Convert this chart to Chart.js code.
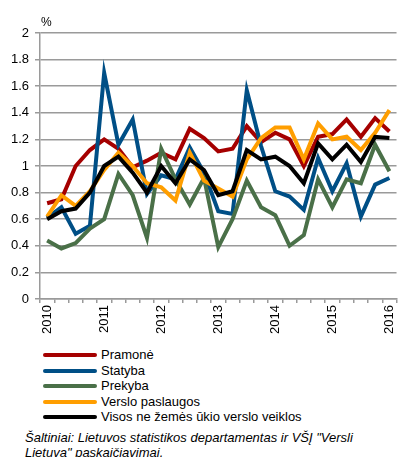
<!DOCTYPE html>
<html>
<head>
<meta charset="utf-8">
<script src="https://cdn.jsdelivr.net/npm/chart.js@4"></script>
<style>
    body { margin: 0; width: 403px; height: 457px; overflow: hidden; background: #fff; font-family: "Liberation Sans", Arial, sans-serif; }
    #wrap { position: absolute; left: 0; top: 0; width: 407px; height: 340px; }
    #unit { position: absolute; left: 41px; top: 15px; font-size: 12px; }
    .legend-row { position: absolute; left: 43px; height: 16px; font-size: 13px; line-height: 16px; }
    .legend-line { position: absolute; left: 0; top: 6px; width: 54px; height: 4px; border-radius: 2px; }
    .legend-text { position: absolute; left: 58px; top: 0; white-space: nowrap; }
    #note { position: absolute; left: 25px; top: 430px; font-size: 13px; font-style: italic; line-height: 15px; white-space: nowrap; }
</style>
</head>
<body>
<div id="wrap"><canvas id="lineChart"></canvas></div>
<div id="unit">%</div>
<div id="legend"></div>
<div id="note">Šaltiniai: Lietuvos statistikos departamentas ir VŠĮ "Versli<br>Lietuva" paskaičiavimai.</div>

<script>
    // =========================================
    // DATA (ketvirčiai 2010 I - 2016 I)
    // =========================================
    const quarters = [
        '2010', '', '', '', '2011', '', '', '', '2012', '', '', '', '2013',
        '', '', '', '2014', '', '', '', '2015', '', '', '', '2016'
    ];
    const pramone  = [0.72, 0.75, 1.00, 1.12, 1.20, 1.13, 0.99, 1.04, 1.10, 1.05, 1.28, 1.21, 1.11, 1.13, 1.30, 1.18, 1.25, 1.20, 1.00, 1.22, 1.24, 1.35, 1.22, 1.36, 1.26];
    const statyba  = [0.61, 0.69, 0.49, 0.55, 1.70, 1.16, 1.35, 0.79, 0.93, 0.90, 1.14, 0.95, 0.66, 0.64, 1.57, 1.15, 0.81, 0.77, 0.67, 1.06, 0.81, 1.02, 0.62, 0.86, 0.91];
    const prekyba  = [0.44, 0.38, 0.42, 0.53, 0.60, 0.94, 0.78, 0.46, 1.13, 0.90, 0.71, 0.91, 0.39, 0.60, 0.89, 0.69, 0.63, 0.40, 0.48, 0.90, 0.69, 0.90, 0.87, 1.16, 0.96];
    const verslo   = [0.62, 0.78, 0.70, 0.81, 0.97, 1.10, 1.00, 0.87, 0.84, 0.74, 1.10, 0.89, 0.83, 0.77, 1.05, 1.21, 1.29, 1.29, 1.05, 1.32, 1.20, 1.22, 1.12, 1.25, 1.42];
    const visos    = [0.60, 0.66, 0.68, 0.80, 1.00, 1.07, 0.95, 0.80, 1.00, 0.87, 1.05, 0.97, 0.78, 0.81, 1.12, 1.05, 1.07, 1.00, 0.87, 1.17, 1.05, 1.16, 1.03, 1.22, 1.21];

    const seriesNames = ['Pramonė', 'Statyba', 'Prekyba', 'Verslo paslaugos', 'Visos ne žemės ūkio verslo veiklos'];
    const seriesColors = ['#a50000', '#004f86', '#4a7048', '#ff9e00', '#000000'];
    const seriesData = [pramone, statyba, prekyba, verslo, visos];

    const gridColor = '#9a9a9a';
    const fontFamily = '"Liberation Sans", Arial, sans-serif';

    // paskutinė serija piešiama viršuje (kaip Excel)
    const datasets = seriesData.map((data, i) => ({
        label: seriesNames[i],
        data: data,
        borderColor: seriesColors[i],
        backgroundColor: seriesColors[i],
        borderWidth: 4,
        tension: 0,
        pointRadius: 0,
        fill: false,
        order: seriesData.length - i
    }));

    new Chart(document.getElementById('lineChart'), {
        type: 'line',
        data: { labels: quarters, datasets: datasets },
        options: {
            responsive: true,
            maintainAspectRatio: false,
            animation: false,
            layout: { padding: { top: 33, right: 0, left: 0, bottom: 0 } },
            plugins: { legend: { display: false }, tooltip: { enabled: false } },
            scales: {
                x: {
                    type: 'category',
                    offset: true,
                    grid: { display: true, drawOnChartArea: false, drawTicks: true, tickLength: 4, color: gridColor, lineWidth: 1.5, offset: true },
                    border: { color: gridColor, width: 1.5 },
                    ticks: { autoSkip: false, maxRotation: 90, minRotation: 90, padding: 2, color: '#000', font: { family: fontFamily, size: 13 } },
                    afterFit: (scale) => { scale.height = 41; }
                },
                y: {
                    min: 0,
                    max: 2,
                    grid: { color: gridColor, lineWidth: 1.5, tickLength: 5 },
                    border: { color: gridColor, width: 1.5 },
                    ticks: {
                        stepSize: 0.2,
                        padding: 6,
                        color: '#000',
                        font: { family: fontFamily, size: 13 },
                        callback: (v) => String(Math.round(v * 10) / 10)
                    },
                    afterFit: (scale) => { scale.width = 40; }
                }
            }
        }
    });

    // Legenda po grafiku
    const legendEl = document.getElementById('legend');
    legendEl.innerHTML = seriesNames.map((name, i) => `
        <div class="legend-row" style="top:${347 + i * 15.5}px">
            <span class="legend-line" style="background:${seriesColors[i]}"></span>
            <span class="legend-text">${name}</span>
        </div>`).join('');
</script>
</body>
</html>
